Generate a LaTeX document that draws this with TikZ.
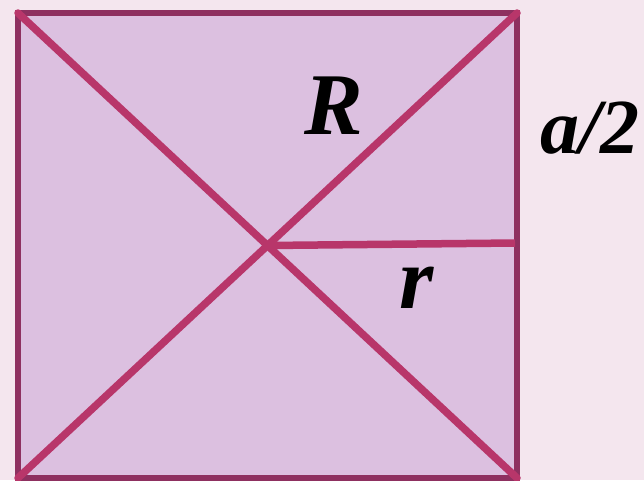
\documentclass[tikz,border=0pt]{standalone}
\usepackage{fontspec}
\setmainfont{Liberation Serif}
\usepackage{tikz}

\definecolor{bgpink}{HTML}{F4E6EE}
\definecolor{sqfill}{HTML}{DCC0E0}
\definecolor{sqedge}{HTML}{8E3060}
\definecolor{diagred}{HTML}{B8366A}

\tikzset{
  frame/.style={draw=sqedge, fill=sqfill, line width=5.5pt},
  seg/.style={draw=diagred, line width=7.5pt, line cap=round},
  lbl/.style={font=\bfseries\itshape\fontsize{88}{88}\selectfont, inner sep=0pt}
}

\begin{document}
\begin{tikzpicture}[x=1pt, y=-1pt]
  % background
  \fill[bgpink] (0,0) rectangle (644,480);
  \useasboundingbox (0,0) rectangle (644,480);

  % corners of the face
  \coordinate (tl) at (18,13);
  \coordinate (tr) at (517,13);
  \coordinate (bl) at (18,478);
  \coordinate (br) at (517,478);
  \coordinate (mid) at (267.5,245.5);
  \coordinate (foot) at (515,243);

  \draw[frame] (tl) rectangle (br);

  % diagonals and inradius
  \draw[seg] (tl) -- (br);
  \draw[seg] (bl) -- (tr);
  \draw[seg, line cap=butt] (mid) -- (foot);

  % labels
  \node[lbl] (Rlab) at (334,106) {R};
  \node[lbl] (rlab) at (417,288) {r};
  \node[lbl, font=\bfseries\itshape\fontsize{78}{78}\selectfont] (halfa) at (590,128) {a/2};
\end{tikzpicture}
\end{document}
